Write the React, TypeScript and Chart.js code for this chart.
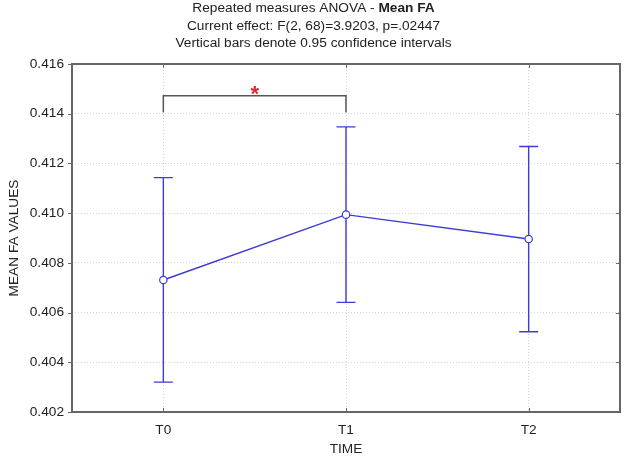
import React, { useEffect, useRef } from "react";
import { Chart, registerables } from "chart.js";

Chart.register(...registerables);

const categories = ["T0", "T1", "T2"];
const means = [0.40731, 0.40994, 0.40896];
const ciLower = [0.4032, 0.40641, 0.40523];
const ciUpper = [0.41143, 0.41347, 0.41268];
const yMin = 0.402;
const yMax = 0.416;
const yStep = 0.002;
const titleLine1Normal = "Repeated measures ANOVA - ";
const titleLine1Bold = "Mean FA";
const titleLine2 = "Current effect: F(2, 68)=3.9203, p=.02447";
const titleLine3 = "Vertical bars denote 0.95 confidence intervals";
const xTitle = "TIME";
const yTitle = "MEAN FA VALUES";
const bracketFrom = 0;
const bracketTo = 1;
const bracketLevel = 0.41472;
const bracketFoot = 0.41406;
const bracketMark = "*";

const FONT = "'Liberation Sans', Arial, sans-serif";
const BLUE = "#3b3bd6";
const TEXT = "#222222";

const customPlugin = {
  id: "custom",
  beforeDatasetsDraw(chart: any) {
    const { ctx } = chart;
    const xs = chart.scales.x;
    const ys = chart.scales.y;
    ctx.save();
    ctx.strokeStyle = BLUE;
    ctx.lineWidth = 1.4;
    for (let i = 0; i < categories.length; i++) {
      const x = xs.getPixelForValue(i);
      const yl = ys.getPixelForValue(ciLower[i]);
      const yu = ys.getPixelForValue(ciUpper[i]);
      ctx.beginPath();
      ctx.moveTo(x, yl);
      ctx.lineTo(x, yu);
      ctx.moveTo(x - 9.5, yl);
      ctx.lineTo(x + 9.5, yl);
      ctx.moveTo(x - 9.5, yu);
      ctx.lineTo(x + 9.5, yu);
      ctx.stroke();
    }
    ctx.restore();
  },
  afterDatasetsDraw(chart: any) {
    const { ctx, chartArea } = chart;
    const xs = chart.scales.x;
    const ys = chart.scales.y;
    const { left, right, top, bottom } = chartArea;
    ctx.save();
    // box
    ctx.strokeStyle = "#666666";
    ctx.lineWidth = 2;
    ctx.strokeRect(left, top, right - left, bottom - top);
    // tick marks
    ctx.lineWidth = 1;
    ctx.beginPath();
    ys.ticks.forEach((t: any) => {
      const y = Math.round(ys.getPixelForValue(t.value)) + 0.5;
      ctx.moveTo(left - 4, y);
      ctx.lineTo(left, y);
      ctx.moveTo(right - 4, y);
      ctx.lineTo(right, y);
    });
    for (let i = 0; i < categories.length; i++) {
      const x = Math.round(xs.getPixelForValue(i)) + 0.5;
      ctx.moveTo(x, top);
      ctx.lineTo(x, top + 4);
      ctx.moveTo(x, bottom);
      ctx.lineTo(x, bottom - 4);
    }
    ctx.stroke();
    // bracket
    const bx1 = xs.getPixelForValue(bracketFrom);
    const bx2 = xs.getPixelForValue(bracketTo);
    const by = ys.getPixelForValue(bracketLevel);
    const bf = ys.getPixelForValue(bracketFoot);
    ctx.strokeStyle = "#555555";
    ctx.lineWidth = 1.5;
    ctx.beginPath();
    ctx.moveTo(bx1, bf);
    ctx.lineTo(bx1, by);
    ctx.lineTo(bx2, by);
    ctx.lineTo(bx2, bf);
    ctx.stroke();
    ctx.fillStyle = "#e8262b";
    ctx.font = `bold 22px ${FONT}`;
    ctx.textAlign = "center";
    ctx.textBaseline = "alphabetic";
    ctx.fillText(bracketMark, (bx1 + bx2) / 2, by - 7 + 0.57 * 22);
    ctx.restore();
  },
  afterDraw(chart: any) {
    const { ctx } = chart;
    const cx = chart.width / 2;
    ctx.save();
    ctx.fillStyle = TEXT;
    ctx.textBaseline = "middle";
    ctx.textAlign = "left";
    const normalFont = `13.7px ${FONT}`;
    const boldFont = `bold 13.7px ${FONT}`;
    ctx.font = normalFont;
    const w1 = ctx.measureText(titleLine1Normal).width;
    ctx.font = boldFont;
    const w2 = ctx.measureText(titleLine1Bold).width;
    const start = cx - (w1 + w2) / 2;
    ctx.font = normalFont;
    ctx.fillText(titleLine1Normal, start, 8.5);
    ctx.font = boldFont;
    ctx.fillText(titleLine1Bold, start + w1, 8.5);
    ctx.font = normalFont;
    ctx.textAlign = "center";
    ctx.fillText(titleLine2, cx, 26);
    ctx.fillText(titleLine3, cx, 43.5);
    ctx.restore();
  },
};

export default function App() {
  const ref = useRef<HTMLCanvasElement | null>(null);
  useEffect(() => {
    if (!ref.current) return;
    const chart = new Chart(ref.current, {
      type: "line",
      data: {
        labels: categories,
        datasets: [
          {
            data: means,
            borderColor: BLUE,
            borderWidth: 1.4,
            pointRadius: 3.7,
            pointBackgroundColor: "#ffffff",
            pointBorderColor: BLUE,
            pointBorderWidth: 1.2,
            tension: 0,
            fill: false,
          },
        ],
      },
      options: {
        responsive: false,
        animation: false,
        devicePixelRatio: 1,
        layout: { padding: { top: 64, right: 7, left: 0, bottom: 0 } },
        plugins: {
          legend: { display: false },
          title: { display: false },
          tooltip: { enabled: false },
        },
        scales: {
          x: {
            type: "category",
            offset: true,
            grid: {
              offset: false,
              color: "#d4d4d4",
              lineWidth: 1,
              drawTicks: false,
            },
            border: { display: false, dash: [1, 2] },
            ticks: {
              color: TEXT,
              font: { family: FONT, size: 13.7 },
              padding: 10,
            },
            title: {
              display: true,
              text: xTitle,
              color: TEXT,
              font: { family: FONT, size: 13.7 },
              padding: { top: 0, bottom: -1 },
            },
            afterFit: (scale: any) => {
              scale.height = 44;
            },
          },
          y: {
            min: yMin,
            max: yMax,
            grid: {
              color: "#d4d4d4",
              lineWidth: 1,
              drawTicks: false,
            },
            border: { display: false, dash: [1, 2] },
            ticks: {
              stepSize: yStep,
              color: TEXT,
              font: { family: FONT, size: 13.7 },
              padding: 8,
              callback: (v: any) => Number(v).toFixed(3),
            },
            title: {
              display: true,
              text: yTitle,
              color: TEXT,
              font: { family: FONT, size: 13.7 },
              padding: { top: 6, bottom: 0 },
            },
            afterFit: (scale: any) => {
              scale.width = 72;
            },
          },
        },
      },
      plugins: [customPlugin],
    });
    return () => chart.destroy();
  }, []);
  return (
    <div style={{ position: "fixed", left: 0, top: 0, width: 627, height: 456, background: "#fff" }}>
      <canvas ref={ref} width={627} height={456} />
    </div>
  );
}
